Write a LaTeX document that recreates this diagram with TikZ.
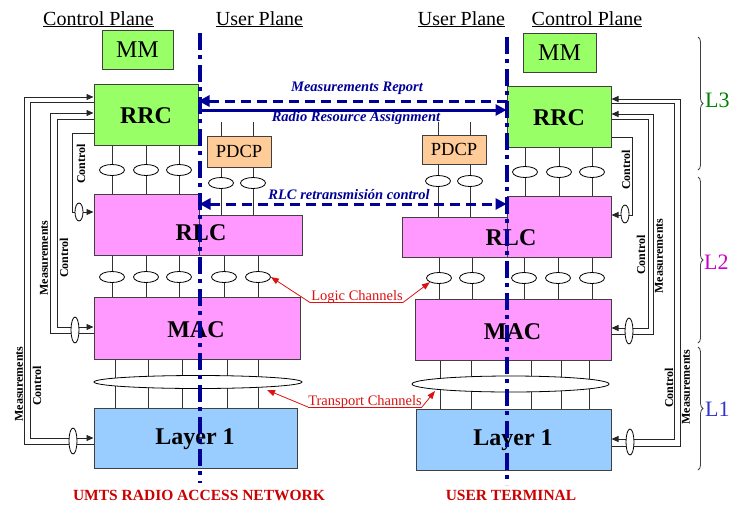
\documentclass[tikz,border=0pt]{standalone}
\usepackage{fontspec}
\setmainfont{Liberation Serif}
\usetikzlibrary{shapes.geometric,arrows.meta,decorations.pathreplacing}
\definecolor{navy}{HTML}{000099}
\definecolor{rrcg}{HTML}{99FF66}
\definecolor{pinkb}{HTML}{FF99FF}
\definecolor{blueb}{HTML}{99CCFF}
\definecolor{pdcpo}{HTML}{FFCC99}
\definecolor{redt}{HTML}{CC0000}
\definecolor{redl}{HTML}{DD1111}
\definecolor{edgec}{HTML}{404040}
\definecolor{lthree}{HTML}{008000}
\definecolor{ltwo}{HTML}{CC00CC}
\definecolor{lone}{HTML}{3333CC}
\begin{document}
\begin{tikzpicture}[x=1pt,y=-1pt,
  box/.style={draw=edgec, line width=1pt, inner sep=0pt, font=\fontsize{24}{28}\selectfont\bfseries},
  lnk/.style={draw=black!80, line width=0.8pt},
  ch/.style={ellipse, draw=black, fill=white, line width=0.8pt, minimum width=25pt, minimum height=11pt, inner sep=0pt},
  cel/.style={ellipse, draw=black, fill=white, line width=0.8pt, minimum width=8pt, inner sep=0pt},
  ctl/.style={draw=black!85, line width=0.9pt, -{Triangle[length=7pt,width=6pt]}},
  clab/.style={rotate=90, font=\fontsize{12}{14}\selectfont\bfseries, inner sep=0pt},
  ttl/.style={font=\fontsize{20}{24}\selectfont, anchor=base, inner sep=0pt},
  msg/.style={font=\fontsize{14.5}{17}\selectfont\bfseries\itshape, text=navy, anchor=base, inner sep=0pt},
  msgline/.style={draw=navy, line width=3pt},
  navytip/.style={-{Triangle[length=11pt,width=11pt]}},
  planeline/.style={draw=navy, line width=4pt, dash pattern=on 17pt off 5pt on 4pt off 6pt},
  redarrow/.style={draw=redl, line width=0.8pt, -{Triangle[length=8pt,width=6pt]}},
  redlab/.style={font=\fontsize{14.5}{17}\selectfont, text=redl, anchor=base, inner sep=0pt},
  bottom/.style={font=\fontsize{15.5}{18}\selectfont\bfseries, text=redt, anchor=base, inner sep=0pt},
  brc/.style={draw=black!75, line width=0.8pt, decorate, decoration={brace, amplitude=5pt}},
  lay/.style={font=\fontsize{22}{26}\selectfont, anchor=west, inner sep=0pt},
  btxt/.style={font=\fontsize{24}{28}\selectfont\bfseries, inner sep=0pt}
]
\useasboundingbox (0,0) rectangle (731,507);

% titles
\node[ttl] (tcl) at (98.5,25) {\underline{Control Plane}};
\node[ttl] (tul) at (259.5,25) {\underline{User Plane}};
\node[ttl] (tur) at (461.5,25) {\underline{User Plane}};
\node[ttl] (tcr) at (587,25) {\underline{Control Plane}};

% boxes left
\node[box, fill=rrcg, minimum width=71pt, minimum height=39pt, font=\fontsize{24}{28}\selectfont] (mmL) at (137.5,49.5) {MM};
\node[box, fill=rrcg, minimum width=104pt, minimum height=61pt] (rrcL) at (146,114.5) {};
\node[btxt] (rrcLt) at (146,116) {RRC};
\node[box, fill=pdcpo, minimum width=64pt, minimum height=31pt, font=\fontsize{18.5}{22}\selectfont] (pdcpL) at (239,151.5) {PDCP};
\node[box, fill=pinkb, minimum width=105pt, minimum height=61pt] (rlcLa) at (146.5,224.5) {};
\node[box, fill=pinkb, minimum width=103pt, minimum height=40pt] (rlcLb) at (250.5,235) {};
\node[btxt] (rlcL) at (201,233) {RLC};
\node[box, fill=pinkb, minimum width=206pt, minimum height=62pt] (macL) at (197,328) {};
\node[btxt] (macLt) at (196,330) {MAC};
\node[box, fill=blueb, minimum width=203pt, minimum height=60pt] (l1L) at (195.5,438) {};
\node[btxt] (l1Lt) at (195,439) {Layer 1};

% boxes right
\node[box, fill=rrcg, minimum width=73pt, minimum height=39pt, font=\fontsize{24}{28}\selectfont] (mmR) at (559.5,52.5) {MM};
\node[box, fill=rrcg, minimum width=104pt, minimum height=61pt] (rrcR) at (559,116.5) {};
\node[btxt] (rrcRt) at (559,118) {RRC};
\node[box, fill=pdcpo, minimum width=64pt, minimum height=29pt, font=\fontsize{18.5}{22}\selectfont] (pdcpR) at (454,149.5) {PDCP};
\node[box, fill=pinkb, minimum width=104pt, minimum height=61pt] (rlcRa) at (559,226.5) {};
\node[box, fill=pinkb, minimum width=105pt, minimum height=40pt] (rlcRb) at (454.5,237) {};
\node[btxt] (rlcR) at (511,238) {RLC};
\node[box, fill=pinkb, minimum width=196pt, minimum height=61pt] (macR) at (513,329.5) {};
\node[btxt] (macRt) at (512.5,331.5) {MAC};
\node[box, fill=blueb, minimum width=195pt, minimum height=61pt] (l1R) at (513.5,439.5) {};
\node[btxt] (l1Rt) at (513,440.5) {Layer 1};

% link lines left
\foreach \x in {112,146,179} {\draw[lnk] (rrcL.south -| \x,0) -- (rlcLa.north -| \x,0);}
\foreach \x in {221,253} {\draw[lnk] (\x,122) -- (pdcpL.north -| \x,0); \draw[lnk] (pdcpL.south -| \x,0) -- (rlcLb.north -| \x,0);}
\foreach \x in {112,146,179} {\draw[lnk] (rlcLa.south -| \x,0) -- (macL.north -| \x,0);}
\foreach \x in {224,258} {\draw[lnk] (rlcLb.south -| \x,0) -- (macL.north -| \x,0);}
\foreach \x in {115,148,182,227,258} {\draw[lnk] (macL.south -| \x,0) -- (l1L.north -| \x,0);}
% link lines right
\foreach \x in {525,559,592} {\draw[lnk] (rrcR.south -| \x,0) -- (rlcRa.north -| \x,0);}
\foreach \x in {438,470} {\draw[lnk] (\x,122) -- (pdcpR.north -| \x,0); \draw[lnk] (pdcpR.south -| \x,0) -- (rlcRb.north -| \x,0);}
\foreach \x in {439,472} {\draw[lnk] (rlcRb.south -| \x,0) -- (macR.north -| \x,0);}
\foreach \x in {524,558,592} {\draw[lnk] (rlcRa.south -| \x,0) -- (macR.north -| \x,0);}
\foreach \x in {440,471,531,561,589} {\draw[lnk] (macR.south -| \x,0) -- (l1R.north -| \x,0);}

% channel ellipses
\foreach \x/\n in {112/a,146/b,179/c} {\node[ch] (rcL\n) at (\x,170) {};}
\foreach \x/\n in {221/a,253/b} {\node[ch] (pcL\n) at (\x,183) {};}
\foreach \x/\n in {112/a,146/b,179/c,224/d,258/e} {\node[ch] (lgL\n) at (\x,277) {};}
\node[ellipse, draw=black, fill=white, line width=0.8pt, minimum width=208pt, minimum height=13pt, inner sep=0pt] (trL) at (198,382) {};
\foreach \x/\n in {525/a,559/b,592/c} {\node[ch] (rcR\n) at (\x,172) {};}
\foreach \x/\n in {438/a,470/b} {\node[ch] (pcR\n) at (\x,181) {};}
\foreach \x/\n in {439/a,472/b,524/c,558/d,592/e} {\node[ch] (lgR\n) at (\x,278) {};}
\node[ellipse, draw=black, fill=white, line width=0.8pt, minimum width=197pt, minimum height=16pt, inner sep=0pt] (trR) at (510.5,384) {};

% control lines left
\draw[ctl] (l1L.west |- 0,444) -- (24,444) -- (24,97) -- (rrcL.west |- 0,97);
\draw[ctl] (rrcL.west |- 0,102) -- (30,102) -- (30,438) -- (l1L.west |- 0,438);
\draw[ctl] (macL.west |- 0,333) -- (50,333) -- (50,113) -- (rrcL.west |- 0,113);
\draw[ctl] (rrcL.west |- 0,119) -- (57,119) -- (57,327) -- (macL.west |- 0,327);
\draw[ctl] (rrcL.west |- 0,133) -- (72,133) -- (72,212) -- (rlcLa.west |- 0,212);
\node[cel, minimum height=26pt] (ceL1) at (73,441) {};
\node[cel, minimum height=26pt] (ceL2) at (75,330) {};
\node[cel, minimum height=18pt] (ceL3) at (79,212) {};
% control lines right
\draw[ctl] (l1R.east |- 0,446) -- (680,446) -- (680,99) -- (rrcR.east |- 0,99);
\draw[ctl] (rrcR.east |- 0,103) -- (674,103) -- (674,439) -- (l1R.east |- 0,439);
\draw[ctl] (macR.east |- 0,334) -- (653,334) -- (653,114) -- (rrcR.east |- 0,114);
\draw[ctl] (rrcR.east |- 0,119) -- (648,119) -- (648,328) -- (macR.east |- 0,328);
\draw[ctl] (rrcR.east |- 0,137) -- (632,137) -- (632,215) -- (rlcRa.east |- 0,215);
\node[cel, minimum height=26pt] (ceR1) at (630,442) {};
\node[cel, minimum height=26pt] (ceR2) at (629,331) {};
\node[cel, minimum height=18pt] (ceR3) at (625,214) {};

% control labels
\node[clab] (mlL1) at (19,384) {Measurements};
\node[clab] (clL1) at (37,386) {Control};
\node[clab] (mlL2) at (44,258) {Measurements};
\node[clab] (clL2) at (64,258) {Control};
\node[clab] (clL3) at (81,164) {Control};
\node[clab] (clR1) at (669,388) {Control};
\node[clab] (mlR1) at (686,387) {Measurements};
\node[clab] (clR2) at (641,255) {Control};
\node[clab] (mlR2) at (659,256) {Measurements};
\node[clab] (clR3) at (626,170) {Control};

% messages
\node[msg] (mrep) at (357,91) {Measurements Report};
\node[msg] (rra) at (356,121.5) {Radio Resource Assignment};
\node[msg] (rlcrt) at (349,199) {RLC retransmisión control};
\draw[msgline, navytip, dash pattern=on 10pt off 6pt] (rrcR.west |- 0,101) -- (rrcL.east |- 0,101);
\draw[msgline, navytip] (rrcL.east |- 0,110) -- (rrcR.west |- 0,110);
\draw[msgline, {Triangle[length=11pt,width=11pt]}-{Triangle[length=11pt,width=11pt]}, dash pattern=on 10pt off 6pt] (rlcLa.east |- 0,204) -- (rlcRa.west |- 0,204);

% red annotations
\node[redlab] (logic) at (357,300) {Logic Channels};
\coordinate (lgu1) at (310,302.5);
\coordinate (lgu2) at (403,302.5);
\draw[draw=redl, line width=0.8pt] (lgu1) -- (lgu2);
\draw[redarrow] (lgu1) -- (lgLe.east);
\draw[redarrow] (lgu2) -- (lgRa.south west);
\node[redlab] (transp) at (365,405) {Transport Channels};
\coordinate (tru1) at (308,407);
\coordinate (tru2) at (422,407);
\coordinate (trLt) at (267,390);
\coordinate (trRt) at (435,391);
\draw[draw=redl, line width=0.8pt] (tru1) -- (tru2);
\draw[redarrow] (tru1) -- (trLt);
\draw[redarrow] (tru2) -- (trRt);

% bottom titles
\node[bottom] (umts) at (199,500) {UMTS RADIO ACCESS NETWORK};
\node[bottom] (ut) at (511,500) {USER TERMINAL};

% braces
\coordinate (b3a) at (698,37); \coordinate (b3b) at (698,170);
\coordinate (b2a) at (698,177); \coordinate (b2b) at (698,343);
\coordinate (b1a) at (698,347); \coordinate (b1b) at (698,470);
\draw[brc] (b3a) -- (b3b);
\draw[brc] (b2a) -- (b2b);
\draw[brc] (b1a) -- (b1b);
\node[lay, text=lthree] (L3) at (705,100) {L3};
\node[lay, text=ltwo] (L2) at (704,262) {L2};
\node[lay, text=lone] (L1) at (705,409) {L1};

% plane separators
\coordinate (pl1) at (199.5,33); \coordinate (pl2) at (199.5,483);
\coordinate (pr1) at (507,37); \coordinate (pr2) at (507,485);
\draw[planeline] (pl1) -- (pl2);
\draw[planeline] (pr1) -- (pr2);
\end{tikzpicture}
\end{document}
